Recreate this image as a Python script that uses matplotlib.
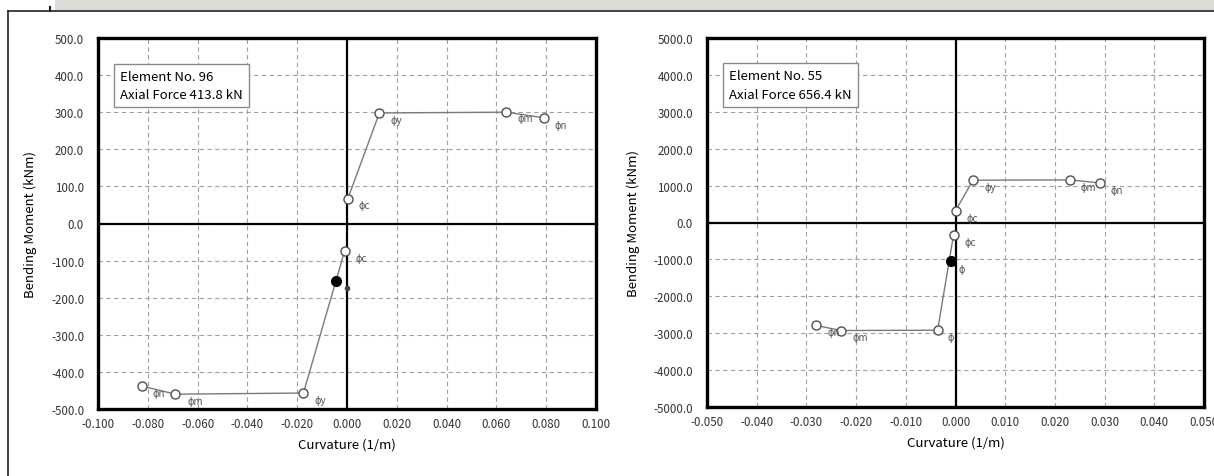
import matplotlib
matplotlib.use("Agg")
import matplotlib.pyplot as plt
import numpy as np
from matplotlib.patches import Rectangle
from matplotlib.lines import Line2D

plt.rcParams['font.family'] = ['Noto Sans CJK JP', 'DejaVu Sans']

# Element No. 96 (left panel)
e96_pos_x = [0.0003, 0.013, 0.064, 0.079]
e96_pos_y = [66, 298, 300, 285]
e96_neg_x = [-0.001, -0.0175, -0.069, -0.0825]
e96_neg_y = [-75, -457, -460, -438]
e96_pos_lbl = ['ϕc', 'ϕy', 'ϕm', 'ϕn']
e96_neg_lbl = ['ϕc', 'ϕy', 'ϕm', 'ϕn']
e96_now = (-0.0043, -155)
e96_dot = (0.0, -174)

# Element No. 55 (right panel)
e55_pos_x = [0.0, 0.0035, 0.023, 0.029]
e55_pos_y = [314, 1146, 1155, 1073]
e55_neg_x = [-0.0004, -0.0036, -0.023, -0.028]
e55_neg_y = [-340, -2919, -2927, -2791]
e55_pos_lbl = ['ϕc', 'ϕy', 'ϕm', 'ϕn']
e55_neg_lbl = ['ϕc', 'ϕ', 'ϕm', 'ϕn']
e55_now = (-0.001, -1045)
e55_now_lbl = 'ϕ'

line_col = '#7a7a7a'
mk_col = '#505050'
lbl_col = '#555555'


def draw_branch(ax, xs, ys, labels, offs):
    ax.plot(xs, ys, color=line_col, lw=1.0, zorder=3)
    ax.plot(xs, ys, 'o', ms=6.5, mfc='white', mec=mk_col, mew=1.0, zorder=4)
    for x, y, t, o in zip(xs, ys, labels, offs):
        ax.annotate(t, (x, y), xytext=o, textcoords='offset points',
                    fontsize=7, color=lbl_col, ha='left', va='center', zorder=5)


def setup(ax, xlim, ylim, xstep, ystep, xfmt, info):
    ax.set_xlim(*xlim)
    ax.set_ylim(*ylim)
    ax.set_xticks(np.arange(xlim[0], xlim[1] + xstep / 2, xstep))
    ax.set_yticks(np.arange(ylim[0], ylim[1] + ystep / 2, ystep))
    ax.xaxis.set_major_formatter(matplotlib.ticker.FormatStrFormatter(xfmt))
    ax.yaxis.set_major_formatter(matplotlib.ticker.FormatStrFormatter('%.1f'))
    ax.grid(True, color='#a0a0a0', ls=(0, (4, 3)), lw=0.8, zorder=0)
    ax.tick_params(length=0, labelsize=8.3, labelcolor='#333333')
    ax.tick_params(axis='y', pad=10)
    ax.tick_params(axis='x', pad=6)
    for s in ax.spines.values():
        s.set_linewidth(2.4)
        s.set_color('black')
    ax.axhline(0, color='black', lw=1.6, zorder=2)
    ax.axvline(0, color='black', lw=1.6, zorder=2)
    ax.set_xlabel('Curvature (1/m)', fontsize=9.5, labelpad=5)
    ax.set_ylabel('Bending Moment (kNm)', fontsize=9.5, labelpad=10)
    ax.text(0.045, 0.915, info, transform=ax.transAxes, fontsize=9.5,
            va='top', ha='left', linespacing=1.55, zorder=6,
            bbox=dict(boxstyle='square,pad=0.45', fc='white', ec='#8a8a8a', lw=1.0))


fig = plt.figure(figsize=(12.14, 4.77), dpi=100)

# page-like frame from the source document
fig.add_artist(Rectangle((55 / 1214, 1 - 11 / 477), 1 - 55 / 1214, 11 / 477,
                         transform=fig.transFigure, fc='#dcdbd6', ec='none'))
fig.add_artist(Line2D([8 / 1214, 1], [1 - 12 / 477, 1 - 12 / 477],
                      transform=fig.transFigure, color='#222222', lw=1.2))
fig.add_artist(Line2D([8 / 1214, 8 / 1214], [0, 1 - 12 / 477],
                      transform=fig.transFigure, color='#222222', lw=1.2))
fig.add_artist(Line2D([50 / 1214, 50 / 1214], [1 - 12 / 477, 1 - 8 / 477],
                      transform=fig.transFigure, color='#222222', lw=1.5))

ax1 = fig.add_axes([98 / 1214, 67 / 477, 498 / 1214, 371 / 477])
ax2 = fig.add_axes([707 / 1214, 69 / 477, 497 / 1214, 369 / 477])

setup(ax1, (-0.1, 0.1), (-500, 500), 0.02, 100, '%.3f',
      'Element No. 96\nAxial Force 413.8 kN')
draw_branch(ax1, e96_pos_x, e96_pos_y, e96_pos_lbl,
            [(8, -4), (8, -5), (8, -4), (8, -5)])
draw_branch(ax1, e96_neg_x, e96_neg_y, e96_neg_lbl,
            [(8, -5), (8, -5), (9, -5), (8, -5)])
ax1.plot(*e96_now, 'o', ms=7, color='black', zorder=5)
ax1.plot(*e96_dot, 'o', ms=3, color='#444444', zorder=5)

setup(ax2, (-0.05, 0.05), (-5000, 5000), 0.01, 1000, '%.3f',
      'Element No. 55\nAxial Force 656.4 kN')
draw_branch(ax2, e55_pos_x, e55_pos_y, e55_pos_lbl,
            [(8, -5), (8, -5), (8, -5), (8, -5)])
draw_branch(ax2, e55_neg_x, e55_neg_y, e55_neg_lbl,
            [(8, -5), (7, -5), (8, -5), (8, -5)])
ax2.plot(*e55_now, 'o', ms=7, color='black', zorder=5)
ax2.annotate(e55_now_lbl, e55_now, xytext=(6, -6), textcoords='offset points',
             fontsize=7, color=lbl_col, ha='left', va='center', zorder=5)

fig.savefig('out.png', dpi=100)
